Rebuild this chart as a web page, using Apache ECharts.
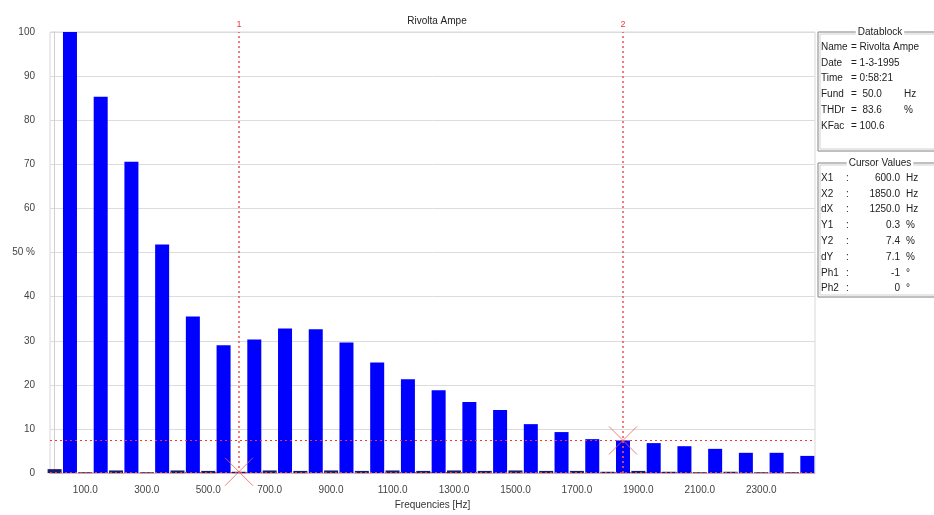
<!DOCTYPE html>
<html>
<head>
<meta charset="utf-8">
<script src="https://cdn.jsdelivr.net/npm/echarts@6/dist/echarts.min.js"></script>
<style>
html,body{margin:0;padding:0;background:#fff;}
#chart{width:934px;height:515px;}
</style>
</head>
<body>
<div id="chart"></div>
<script>
const chartTitle = 'Rivolta Ampe';
const xAxisName = 'Frequencies [Hz]';
// odd harmonics (Hz) and amplitudes (%)
const oddFreq = [50,150,250,350,450,550,650,750,850,950,1050,1150,1250,1350,1450,1550,1650,1750,1850,1950,2050,2150,2250,2350,2450];
const oddAmp  = [100,85.3,70.6,51.8,35.5,29.0,30.3,32.8,32.6,29.6,25.1,21.3,18.8,16.1,14.3,11.1,9.3,7.7,7.4,6.8,6.1,5.5,4.6,4.6,3.9];
// even harmonics (Hz) and amplitudes (%)
const evenFreq = [0,100,200,300,400,500,600,700,800,900,1000,1100,1200,1300,1400,1500,1600,1700,1800,1900,2000,2100,2200,2300,2400];
const evenAmp  = [0.9,0.2,0.6,0.2,0.6,0.5,0.3,0.6,0.5,0.6,0.5,0.6,0.5,0.6,0.5,0.6,0.5,0.5,0.3,0.5,0.3,0.2,0.3,0.2,0.2];
const xTickLabels = [100,300,500,700,900,1100,1300,1500,1700,1900,2100,2300];
const yTickLabels = [0,10,20,30,40,50,60,70,80,90,100];
// cursors
const cursorNames = ['1','2'];
const cursorX = [600,1850];
const cursorY = [0.3,7.4];
// info panels
const datablockTitle = 'Datablock';
const datablockRows = [
  ['Name','= Rivolta Ampe',''],
  ['Date','= 1-3-1995',''],
  ['Time','= 0:58:21',''],
  ['Fund','=  50.0','Hz'],
  ['THDr','=  83.6','%'],
  ['KFac','= 100.6','']
];
const cursorTitle = 'Cursor Values';
const cursorRows = [
  ['X1',':','600.0','Hz'],
  ['X2',':','1850.0','Hz'],
  ['dX',':','1250.0','Hz'],
  ['Y1',':','0.3','%'],
  ['Y2',':','7.4','%'],
  ['dY',':','7.1','%'],
  ['Ph1',':','-1','°'],
  ['Ph2',':','0','°']
];

const FONT = 'Liberation Sans, Arial, sans-serif';
const RED = '#f03a3a';
const chart = echarts.init(document.getElementById('chart'));

const oddData = oddFreq.map((f,i)=>[f,oddAmp[i]]);
const evenData = evenFreq.map((f,i)=>[f,evenAmp[i]]);

const graphics = [];
function panel(x, y, w, h, title, rows, cols) {
  graphics.push({type:'rect', shape:{x:x, y:y, width:w, height:h}, style:{fill:'#fff', stroke:'#808080', lineWidth:1}, z:10});
  graphics.push({type:'rect', shape:{x:x+2, y:y+2, width:w-4, height:h-4}, style:{fill:'none', stroke:'#d0d0d0', lineWidth:1}, z:10});
  graphics.push({type:'text', x:x+62, y:y, style:{text:title, font:'10px '+FONT, fill:'#222', align:'center', verticalAlign:'middle', backgroundColor:'#fff', padding:[0,2]}, z:11});
  rows.forEach((r,i)=>{
    const yy = y + 15 + i*15.8;
    cols.forEach((c,j)=>{
      if (!r[j]) return;
      graphics.push({type:'text', x:x+c.x, y:yy, style:{text:r[j], font:'10px '+FONT, fill:'#222', align:c.align, verticalAlign:'middle'}, z:11});
    });
  });
}
panel(818, 32, 130, 119, datablockTitle, datablockRows, [{x:3,align:'left'},{x:33,align:'left'},{x:86,align:'left'}]);
panel(818, 163, 130, 134, cursorTitle, cursorRows, [{x:3,align:'left'},{x:28,align:'left'},{x:82,align:'right'},{x:88,align:'left'}]);

const hLine = {color:RED, type:[2,3], width:1, opacity:1};
const vLine = {color:'#f25a5a', type:[2,3], width:1.6, opacity:1};
chart.setOption({
  animation:false,
  backgroundColor:'#fff',
  title:{text:chartTitle, left:432, top:11, textAlign:'center', textStyle:{fontSize:10, fontWeight:'normal', color:'#222', fontFamily:FONT}},
  grid:{left:50, right:119, top:32, bottom:41, show:true, borderColor:'#d8d8d8', borderWidth:1},
  xAxis:{
    type:'value', min:-15, max:2475, interval:5,
    name:xAxisName, nameLocation:'middle', nameGap:26,
    nameTextStyle:{fontSize:10, color:'#333', fontFamily:FONT},
    axisLine:{show:true, lineStyle:{color:'#c0c0c0'}},
    axisTick:{show:false},
    splitLine:{show:false},
    axisLabel:{fontSize:10, color:'#444', fontFamily:FONT, margin:12, formatter:v=>xTickLabels.includes(v)?v.toFixed(1):''}
  },
  yAxis:{
    type:'value', min:0, max:100, interval:10,
    axisLine:{show:true, lineStyle:{color:'#d0d0d0'}},
    axisTick:{show:false},
    splitLine:{show:true, lineStyle:{color:'#dcdcdc'}},
    axisLabel:{fontSize:10, color:'#444', fontFamily:FONT, margin:15, formatter:v=>yTickLabels.includes(v)?(v===50?'50 %':String(v)):''}
  },
  graphic:graphics,
  series:[
    {
      type:'bar', name:'even', data:evenData, barWidth:14, barGap:'-100%',
      itemStyle:{color:'#1a1a70'}, z:2
    },
    {
      type:'bar', name:'odd', data:oddData, barWidth:14, barGap:'-100%',
      itemStyle:{color:'#0000ff'}, z:3,
      markLine:{
        silent:true, symbol:'none', animation:false, precision:2,
        lineStyle:hLine,
        label:{color:RED, fontSize:9, position:'end', distance:3},
        data:[
          {xAxis:cursorX[0], lineStyle:vLine, label:{formatter:cursorNames[0]}},
          {xAxis:cursorX[1], lineStyle:vLine, label:{formatter:cursorNames[1]}},
          {yAxis:cursorY[0], lineStyle:hLine, label:{show:false}},
          {yAxis:cursorY[1], lineStyle:hLine, label:{show:false}}
        ]
      }
    },
    {
      type:'scatter', name:'cursorMarks', z:5,
      data:cursorX.map((x,i)=>[x,cursorY[i]]),
      symbol:'path://M0,0L10,10M10,0L0,10', symbolSize:28,
      itemStyle:{color:'none', borderColor:'#e86060', borderWidth:1}
    }
  ]
});
</script>
</body>
</html>
